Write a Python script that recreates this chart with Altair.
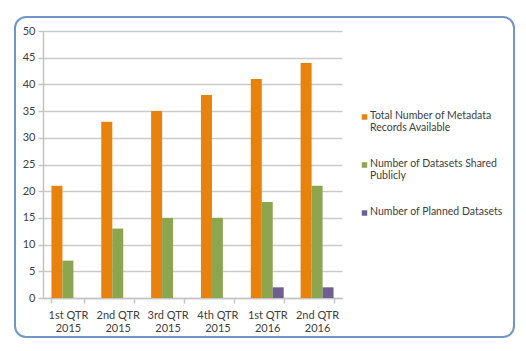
import altair as alt
import pandas as pd

quarters = ["1st QTR 2015", "2nd QTR 2015", "3rd QTR 2015", "4th QTR 2015", "1st QTR 2016", "2nd QTR 2016"]
series = ["Total Number of Metadata Records Available", "Number of Datasets Shared Publicly", "Number of Planned Datasets"]
legend_labels = ["Total Number of Metadata|Records Available", "Number of Datasets Shared|Publicly", "Number of Planned Datasets"]
total_records = [21, 33, 35, 38, 41, 44]
shared_publicly = [7, 13, 15, 15, 18, 21]
planned = [0, 0, 0, 0, 2, 2]
colors = ["#E8820C", "#8CA64F", "#6E5F93"]

rows = []
for i, q in enumerate(quarters):
    for s, vals in zip(series, [total_records, shared_publicly, planned]):
        rows.append({"quarter": q, "series": s, "value": vals[i]})
df = pd.DataFrame(rows)
leg_df = pd.DataFrame({"series": series, "label": legend_labels, "row": [0, 1, 2]})

FONT = "Lato"
TXT = "#404040"
W, H = 299, 267

border = alt.Chart(pd.DataFrame({"a": [0]})).mark_rect(
    fill=None, stroke="#6F96C6", strokeWidth=2, cornerRadius=11
).encode(x=alt.value(-28), x2=alt.value(471), y=alt.value(-14), y2=alt.value(306))

color_enc = alt.Color("series:N", sort=series,
                      scale=alt.Scale(domain=series, range=colors), legend=None)

bars = alt.Chart(df).mark_bar(size=11).encode(
    x=alt.X("quarter:N", sort=quarters,
            scale=alt.Scale(paddingInner=0.34, paddingOuter=0.17),
            axis=alt.Axis(title=None, labelAngle=0, tickBand="extent",
                          labelExpr="[slice(datum.label,0,7), slice(datum.label,8)]",
                          labelFont=FONT, labelFontSize=11, labelColor=TXT,
                          labelLineHeight=13, labelPadding=6,
                          domainColor="#C4C4C4", domainWidth=1.5,
                          tickColor="#C4C4C4", tickWidth=1.5, tickSize=5, grid=False)),
    xOffset=alt.XOffset("series:N", sort=series, scale=alt.Scale(paddingInner=0, paddingOuter=0)),
    y=alt.Y("value:Q", scale=alt.Scale(domain=[0, 50]),
            axis=alt.Axis(title=None, values=list(range(0, 51, 5)),
                          labelFont=FONT, labelFontSize=11, labelColor=TXT,
                          labelPadding=3,
                          domainColor="#C4C4C4", domainWidth=1.5,
                          tickColor="#C4C4C4", tickWidth=1.5, tickSize=5,
                          gridColor="#CACACA", gridWidth=1.5)),
    color=color_enc,
)

leg_y = alt.Y("row:Q", scale=alt.Scale(domain=[0, 2], range=[86, 182], nice=False, zero=False), axis=None)

leg_sym = alt.Chart(leg_df).mark_square(size=30, opacity=1).encode(
    x=alt.value(321.5), y=leg_y, color=color_enc,
)
leg_txt = alt.Chart(leg_df).mark_text(
    align="left", baseline="top", lineBreak="|", lineHeight=12.5,
    font=FONT, fontSize=10.5, color=TXT, dy=-6.5
).encode(
    x=alt.value(327), y=leg_y, text="label:N",
)

chart = alt.layer(border, bars, leg_sym, leg_txt).resolve_scale(y="independent").properties(
    width=W, height=H,
    autosize=alt.AutoSizeParams(type="none"),
    padding={"left": 43, "top": 31, "right": 184, "bottom": 53},
    background="white",
).configure_view(stroke=None)

chart.save("out.html", embed_options={"renderer": "svg", "actions": False})
